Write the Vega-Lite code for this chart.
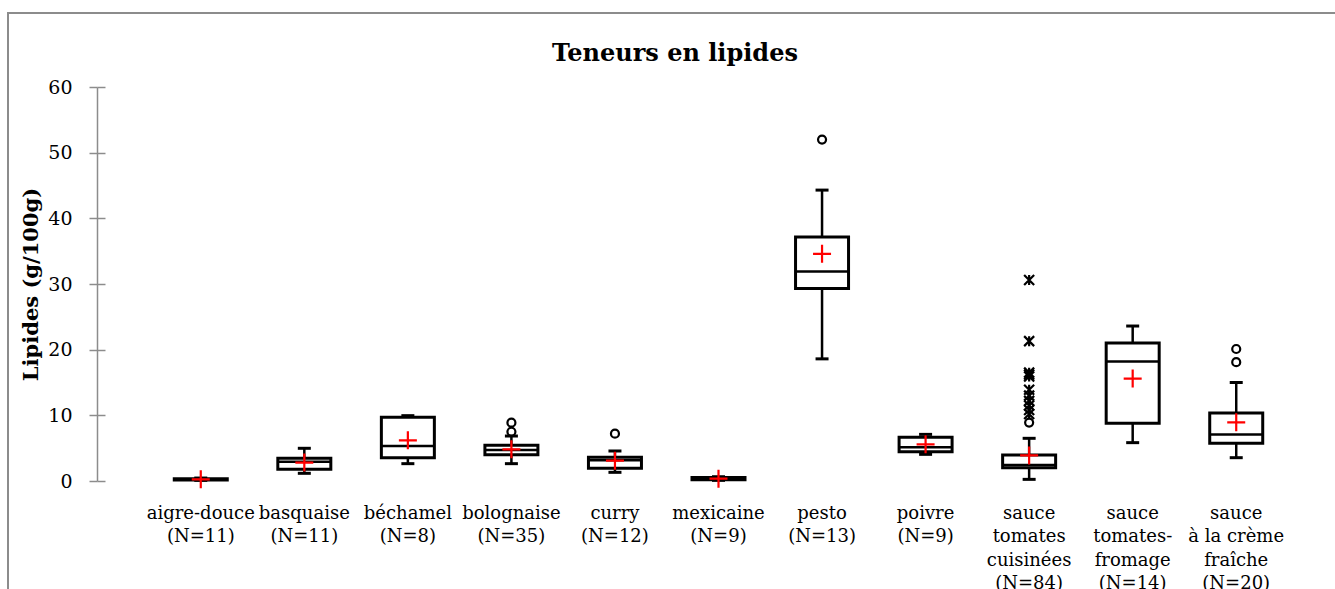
{
  "$schema": "https://vega.github.io/schema/vega-lite/v6.json",
  "width": 1340,
  "height": 600,
  "autosize": {"type": "none"},
  "padding": {"left": 8, "top": 13, "right": -13, "bottom": -24},
  "background": "white",
  "config": {
    "view": {"stroke": "#8c8c8c", "strokeWidth": 2},
    "font": "DejaVu Serif"
  },
  "title": {
    "text": "Teneurs en lipides",
    "font": "DejaVu Serif",
    "fontSize": 24,
    "fontWeight": "bold",
    "color": "black",
    "anchor": "middle",
    "frame": "group",
    "baseline": "top",
    "dy": 57,
    "dx": -3
  },
  "datasets": {
    "boxes": [
      {"cat": "aigre-douce|(N=11)", "wlo": 0.1, "q1": 0.15, "med": 0.25, "q3": 0.35, "whi": 0.45, "mean": 0.26},
      {"cat": "basquaise|(N=11)", "wlo": 1.17, "q1": 1.78, "med": 2.95, "q3": 3.45, "whi": 4.98, "mean": 2.8},
      {"cat": "béchamel|(N=8)", "wlo": 2.64, "q1": 3.55, "med": 5.33, "q3": 9.7, "whi": 9.95, "mean": 6.2},
      {"cat": "bolognaise|(N=35)", "wlo": 2.64, "q1": 4.0, "med": 4.72, "q3": 5.43, "whi": 6.85, "mean": 4.82},
      {"cat": "curry|(N=12)", "wlo": 1.32, "q1": 1.93, "med": 3.15, "q3": 3.6, "whi": 4.57, "mean": 3.1},
      {"cat": "mexicaine|(N=9)", "wlo": 0.1, "q1": 0.2, "med": 0.35, "q3": 0.55, "whi": 0.65, "mean": 0.35},
      {"cat": "pesto|(N=13)", "wlo": 18.6, "q1": 29.3, "med": 31.9, "q3": 37.15, "whi": 44.3, "mean": 34.6},
      {"cat": "poivre|(N=9)", "wlo": 4.06, "q1": 4.47, "med": 5.13, "q3": 6.65, "whi": 7.1, "mean": 5.58},
      {"cat": "sauce|tomates|cuisinées|(N=84)", "wlo": 0.25, "q1": 2.03, "med": 2.44, "q3": 3.96, "whi": 6.5, "mean": 3.9},
      {"cat": "sauce|tomates-|fromage|(N=14)", "wlo": 5.84, "q1": 8.78, "med": 18.2, "q3": 21.0, "whi": 23.6, "mean": 15.6},
      {"cat": "sauce|à la crème|fraîche|(N=20)", "wlo": 3.55, "q1": 5.74, "med": 7.1, "q3": 10.35, "whi": 15.0, "mean": 8.94}
    ],
    "outliers": [
      {"cat": "bolognaise|(N=35)", "v": 7.5, "kind": "o"},
      {"cat": "bolognaise|(N=35)", "v": 8.88, "kind": "o"},
      {"cat": "curry|(N=12)", "v": 7.2, "kind": "o"},
      {"cat": "pesto|(N=13)", "v": 52.0, "kind": "o"},
      {"cat": "sauce|tomates|cuisinées|(N=84)", "v": 8.9, "kind": "o"},
      {"cat": "sauce|tomates|cuisinées|(N=84)", "v": 10.2, "kind": "x"},
      {"cat": "sauce|tomates|cuisinées|(N=84)", "v": 10.8, "kind": "x"},
      {"cat": "sauce|tomates|cuisinées|(N=84)", "v": 11.5, "kind": "x"},
      {"cat": "sauce|tomates|cuisinées|(N=84)", "v": 12.2, "kind": "x"},
      {"cat": "sauce|tomates|cuisinées|(N=84)", "v": 13.0, "kind": "x"},
      {"cat": "sauce|tomates|cuisinées|(N=84)", "v": 13.9, "kind": "x"},
      {"cat": "sauce|tomates|cuisinées|(N=84)", "v": 15.9, "kind": "x"},
      {"cat": "sauce|tomates|cuisinées|(N=84)", "v": 16.2, "kind": "x"},
      {"cat": "sauce|tomates|cuisinées|(N=84)", "v": 16.5, "kind": "x"},
      {"cat": "sauce|tomates|cuisinées|(N=84)", "v": 21.3, "kind": "x"},
      {"cat": "sauce|tomates|cuisinées|(N=84)", "v": 30.6, "kind": "x"},
      {"cat": "sauce|à la crème|fraîche|(N=20)", "v": 18.1, "kind": "o"},
      {"cat": "sauce|à la crème|fraîche|(N=20)", "v": 20.1, "kind": "o"}
    ]
  },
  "encoding": {
    "x": {
      "field": "cat",
      "type": "nominal",
      "sort": null,
      "scale": {
        "domain": ["aigre-douce|(N=11)", "basquaise|(N=11)", "béchamel|(N=8)", "bolognaise|(N=35)", "curry|(N=12)", "mexicaine|(N=9)", "pesto|(N=13)", "poivre|(N=9)", "sauce|tomates|cuisinées|(N=84)", "sauce|tomates-|fromage|(N=14)", "sauce|à la crème|fraîche|(N=20)"],
        "range": [141, 1280],
        "paddingInner": 0,
        "paddingOuter": 0
      },
      "axis": {
        "orient": "bottom",
        "title": null,
        "domain": false,
        "ticks": false,
        "tickSize": 0,
        "offset": -109,
        "labelPadding": 0,
        "labelAngle": 0,
        "labelAlign": "center",
        "labelBaseline": "top",
        "labelFont": "DejaVu Serif",
        "labelFontSize": 18,
        "labelColor": "black",
        "labelLineHeight": 23.5,
        "labelLimit": 300,
        "labelOverlap": false,
        "labelExpr": "split(datum.label, '|')"
      }
    }
  },
  "layer": [
    {
      "data": {"name": "boxes"},
      "mark": {"type": "rule", "color": "black", "strokeWidth": 2.5},
      "encoding": {
        "y": {
          "field": "wlo",
          "type": "quantitative",
          "scale": {"domain": [0, 60], "range": [468, 74], "nice": false, "zero": false},
          "axis": {
            "orient": "left",
            "offset": -89,
            "values": [0, 10, 20, 30, 40, 50, 60],
            "grid": false,
            "domainColor": "#8c8c8c",
            "domainWidth": 1.5,
            "tickColor": "#8c8c8c",
            "tickWidth": 1.5,
            "tickSize": 8,
            "labelFont": "DejaVu Serif",
            "labelFontSize": 19,
            "labelColor": "black",
            "labelPadding": 17,
            "title": "Lipides (g/100g)",
            "titleFont": "DejaVu Serif",
            "titleFontSize": 21,
            "titleFontWeight": "bold",
            "titleColor": "black",
            "titlePadding": 6
          }
        },
        "y2": {"field": "whi"}
      }
    },
    {
      "data": {"name": "boxes"},
      "mark": {"type": "bar", "fill": "white", "stroke": "black", "strokeWidth": 3, "size": 53},
      "encoding": {
        "y": {
          "field": "q1",
          "type": "quantitative",
          "axis": {
            "orient": "left",
            "offset": -89,
            "values": [0, 10, 20, 30, 40, 50, 60],
            "grid": false,
            "domain": false,
            "labels": false,
            "tickColor": "#8c8c8c",
            "tickWidth": 1.5,
            "tickSize": -8,
            "title": null
          }
        },
        "y2": {"field": "q3"}
      }
    },
    {
      "data": {"name": "boxes"},
      "mark": {"type": "tick", "color": "black", "size": 53, "thickness": 2.5, "opacity": 1},
      "encoding": {"y": {"field": "med", "type": "quantitative", "axis": null}}
    },
    {
      "data": {"name": "boxes"},
      "mark": {"type": "tick", "color": "black", "size": 13, "thickness": 3, "opacity": 1},
      "encoding": {"y": {"field": "whi", "type": "quantitative", "axis": null}}
    },
    {
      "data": {"name": "boxes"},
      "mark": {"type": "tick", "color": "black", "size": 13, "thickness": 3, "opacity": 1},
      "encoding": {"y": {"field": "wlo", "type": "quantitative", "axis": null}}
    },
    {
      "data": {"name": "boxes"},
      "mark": {"type": "point", "shape": "M-1,0L1,0M0,-1L0,1", "filled": false, "stroke": "#ff0000", "strokeWidth": 2.2, "size": 324, "opacity": 1},
      "encoding": {"y": {"field": "mean", "type": "quantitative", "axis": null}}
    },
    {
      "data": {"name": "outliers"},
      "transform": [{"filter": "datum.kind === 'o'"}],
      "mark": {"type": "point", "shape": "circle", "filled": false, "stroke": "black", "strokeWidth": 2.2, "size": 64, "opacity": 1},
      "encoding": {"y": {"field": "v", "type": "quantitative", "axis": null}}
    },
    {
      "data": {"name": "outliers"},
      "transform": [{"filter": "datum.kind === 'x'"}],
      "mark": {"type": "point", "shape": "M-1,-1L1,1M1,-1L-1,1M0,-1L0,1", "filled": false, "stroke": "black", "strokeWidth": 2.2, "size": 100, "opacity": 1},
      "encoding": {"y": {"field": "v", "type": "quantitative", "axis": null}}
    }
  ],
  "resolve": {"axis": {"y": "independent"}}
}
